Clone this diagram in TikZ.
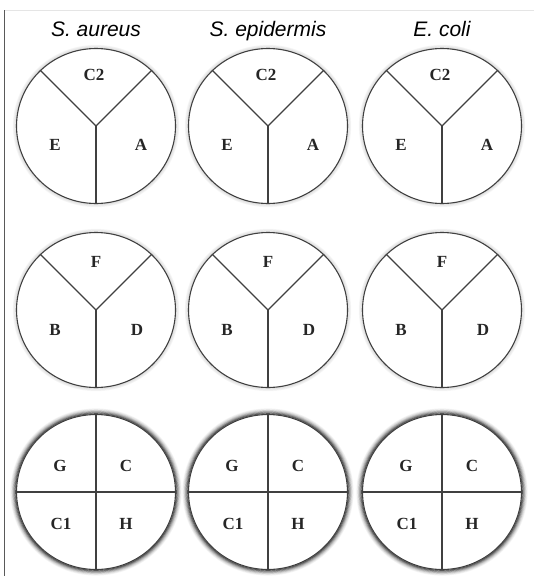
\documentclass[tikz,border=0pt]{standalone}
\usepackage{fontspec}
\setmainfont{Liberation Serif}
\newfontfamily\titlefont{Liberation Sans}
\usetikzlibrary{shapes.geometric}
\tikzset{
  platebox/.style={draw=black!75, line width=1.1pt, ellipse, fill=white,
    minimum width=159pt, minimum height=155pt, inner sep=0pt},
  platetitle/.style={font=\titlefont\itshape\fontsize{21}{24}\selectfont, anchor=base},
  welllabel/.style={font=\bfseries\fontsize{17}{19}\selectfont, text=black!85},
  divline/.style={draw=black!75, line width=1.1pt},
  glowring/.style={draw=black, line width=1pt},
}

\begin{document}
\begin{tikzpicture}[x=1pt, y=-1pt]
  \useasboundingbox (0,0) rectangle (534,576);
  % frame edges
  \coordinate (frametop) at (4,10);
  \coordinate (framebot) at (4,576);
  \coordinate (frameend) at (534,10);
  \draw[black!10, line width=0.8pt] (frametop) -- (frameend);
  \draw[black!65, line width=1pt] (frametop) -- (framebot);
  \foreach \sp/\cx [count=\k] in {S. aureus/96, S. epidermis/268, E. coli/442} {
    \node[platetitle] (name\k) at (\cx,36) {\sp};
    % soft edge of the plates
    \foreach \g/\o in {1/0.10, 2/0.07, 3/0.05, 4/0.03} {
      \draw[glowring, opacity=\o] (\cx,126) ellipse ({79.5+0.8*\g} and {77.5+0.8*\g});
      \draw[glowring, opacity=\o] (\cx,310) ellipse ({79.5+0.8*\g} and {77.5+0.8*\g});
    }
    \foreach \g/\o in {1/0.6, 2/0.45, 3/0.32, 4/0.22, 5/0.14, 6/0.08, 7/0.04} {
      \draw[glowring, opacity=\o] (\cx,492) ellipse ({79.5+0.8*\g} and {77.5+0.8*\g});
    }
    % plate 1: C2, E, A
    \node[platebox] (topplate\k) at (\cx,126) {};
    \draw[divline] (topplate\k.center) -- (topplate\k.135);
    \draw[divline] (topplate\k.center) -- (topplate\k.45);
    \draw[divline] (topplate\k.center) -- (topplate\k.south);
    \node[welllabel] (c2-\k) at (\cx-2,75) {C2};
    \node[welllabel] (e-\k) at (\cx-41,145) {E};
    \node[welllabel] (a-\k) at (\cx+45,145) {A};
    % plate 2: F, B, D
    \node[platebox] (midplate\k) at (\cx,310) {};
    \draw[divline] (midplate\k.center) -- (midplate\k.135);
    \draw[divline] (midplate\k.center) -- (midplate\k.45);
    \draw[divline] (midplate\k.center) -- (midplate\k.south);
    \node[welllabel] (f-\k) at (\cx,262) {F};
    \node[welllabel] (b-\k) at (\cx-41,330) {B};
    \node[welllabel] (d-\k) at (\cx+41,330) {D};
    % plate 3: G, C, C1, H
    \node[platebox] (lowplate\k) at (\cx,492) {};
    \draw[divline] (lowplate\k.north) -- (lowplate\k.south);
    \draw[divline] (lowplate\k.west) -- (lowplate\k.east);
    \node[welllabel] (g-\k) at (\cx-36,466) {G};
    \node[welllabel] (c-\k) at (\cx+30,466) {C};
    \node[welllabel] (c1-\k) at (\cx-35,524) {C1};
    \node[welllabel] (h-\k) at (\cx+30,524) {H};
  }
\end{tikzpicture}
\end{document}
